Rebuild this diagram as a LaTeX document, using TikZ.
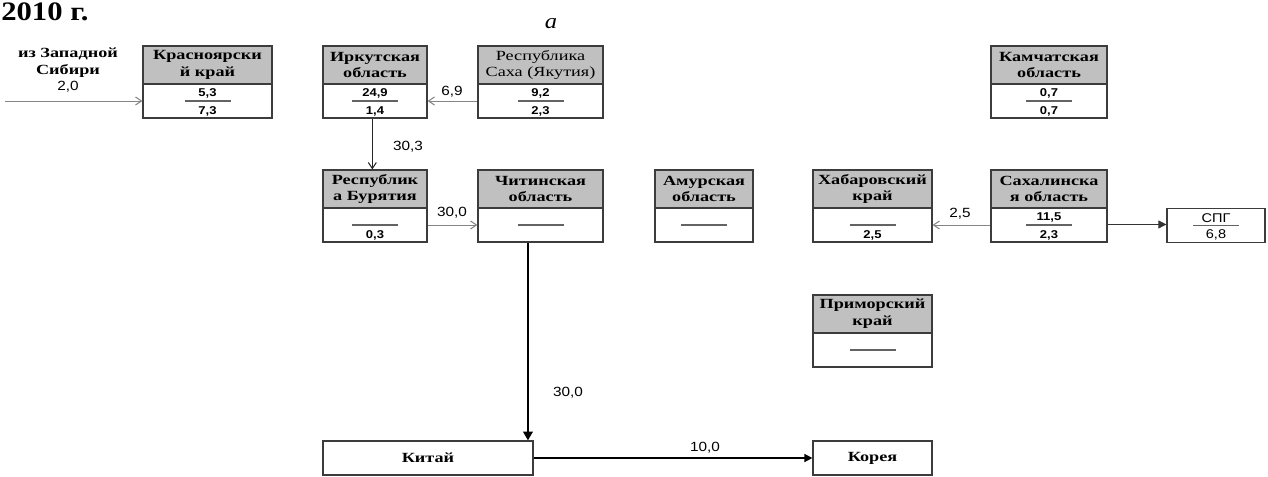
\documentclass[tikz,border=0pt]{standalone}
\usepackage{fontspec}
\setmainfont{Liberation Serif}
\newfontfamily\hdrfont[FakeStretch=1.3]{Liberation Serif}
\newfontfamily\titlefont[FakeStretch=1.15]{Liberation Serif}
\newfontfamily\numfont[FakeStretch=1.15]{Liberation Sans}
\usetikzlibrary{arrows.meta}
\definecolor{hdrgray}{HTML}{C0C0C0}
\definecolor{boxline}{HTML}{3C3C3C}
\definecolor{flowgray}{HTML}{858585}
\tikzset{
  hdrbox/.style={draw=boxline, fill=hdrgray, line width=0.9pt, minimum height=28.5pt,
    inner sep=0pt, align=center, font=\hdrfont\bfseries\fontsize{10.5}{12.6}\selectfont},
  bodybox/.style={draw=boxline, fill=white, line width=0.9pt, minimum height=25.5pt, inner sep=0pt},
  plainbox/.style={draw=boxline, fill=white, line width=0.9pt, inner sep=0pt, align=center,
    font=\hdrfont\bfseries\fontsize{10.5}{12.6}\selectfont},
  fracline/.style={draw=boxline!80, line width=0.8pt},
  numtxt/.style={inner sep=0pt, font=\numfont\bfseries\fontsize{8.5}{9}\selectfont},
  flowlbl/.style={inner sep=0pt, font=\numfont\fontsize{10}{11}\selectfont},
  grayflow/.style={draw=flowgray, line width=0.75pt, -{Straight Barb[length=4.5pt,width=6pt]}},
  darkflow/.style={draw=black!85, line width=0.75pt, -{Straight Barb[length=4.5pt,width=6pt]}},
  solidflow/.style={draw=black!80, line width=0.6pt, -{Triangle[length=6pt,width=6pt]}},
  thickflow/.style={draw=black, line width=1.6pt, -{Triangle[length=6.5pt,width=7pt]}},
  medflow/.style={draw=black, line width=1.1pt, -{Triangle[length=6pt,width=6pt]}},
}
% name, x1, x2, ytop, header, top number, bottom number
\newcommand\regbox[7]{%
  \pgfmathsetmacro\rbcx{(#2+#3)/2}%
  \pgfmathsetmacro\rbw{(#3-#2)*0.75}%
  \node[hdrbox, minimum width=\rbw pt] (#1h) at (\rbcx,#4+19) {#5};
  \node[bodybox, minimum width=\rbw pt] (#1) at (\rbcx,#4+55) {};
  \draw[fracline] ([xshift=-17.25pt]#1.center) -- ([xshift=17.25pt]#1.center);
  \node[numtxt] (#1t) at ([yshift=5.5pt]#1.center) {#6};
  \node[numtxt] (#1b) at ([yshift=-7.6pt]#1.center) {#7};
}
\begin{document}
\begin{tikzpicture}[x=0.75pt, y=-0.75pt]
\useasboundingbox (0,0) rectangle (1268,476);

% title and panel letter
\node[anchor=base west, inner sep=0pt, font=\titlefont\bfseries\fontsize{20}{22}\selectfont] (title) at (1,20) {2010 г.};
\node[anchor=base, inner sep=0pt, font=\titlefont\itshape\fontsize{16}{17}\selectfont] (panel) at (551,28) {а};

% row 1
\regbox{kras}{143}{272}{46}{Красноярски\\й край}{5,3}{7,3}
\regbox{irk}{323}{427}{46}{Иркутская\\область}{24,9}{1,4}
\regbox{saha}{478}{603}{46}{\mdseries Республика\\\mdseries Саха (Якутия)}{9,2}{2,3}
\regbox{kam}{991}{1107}{46}{Камчатская\\область}{0,7}{0,7}

% row 2
\regbox{bur}{323}{427}{170}{Республик\\а Бурятия}{}{0,3}
\regbox{chita}{478}{603}{170}{Читинская\\область}{}{}
\regbox{amur}{655}{753}{170}{Амурская\\область}{}{}
\regbox{hab}{813}{932}{170}{Хабаровский\\край}{}{2,5}
\regbox{sakh}{991}{1107}{170}{Сахалинска\\я область}{11,5}{2,3}

% row 3
\regbox{prim}{813}{932}{295}{Приморский\\край}{}{}

% LNG box
\node[plainbox, minimum width=73.5pt, minimum height=26pt] (spg) at (1216,225.5) {};
\draw[fracline] ([xshift=-17.25pt]spg.center) -- ([xshift=17.25pt]spg.center);
\node[inner sep=0pt, font=\numfont\fontsize{9.5}{10}\selectfont] (spgt) at ([yshift=5.5pt]spg.center) {СПГ};
\node[inner sep=0pt, font=\numfont\fontsize{9.5}{10}\selectfont] (spgb) at ([yshift=-6.8pt]spg.center) {6,8};

% bottom row
\node[plainbox, minimum width=157.5pt, minimum height=25.5pt] (china) at (428,458) {Китай};
\node[plainbox, minimum width=89.25pt, minimum height=25.5pt] (korea) at (872.5,458) {Корея};

% west Siberia inflow
\node[align=center, inner sep=0pt, font=\hdrfont\bfseries\fontsize{10.5}{12.6}\selectfont] (wsibl) at (68,63) {из Западной\\Сибири};
\coordinate (wsib) at (5,101);
\draw[grayflow] (wsib) -- (kras.west);
\node[flowlbl] (l20) at (68,87) {2,0};

% flows
\draw[grayflow] (saha.west) -- (irk.east);
\node[flowlbl] (l69) at (452,92) {6,9};

\draw[darkflow] ([xshift=-2pt]irk.south) -- ([xshift=-2pt]burh.north);
\node[flowlbl] (l303) at (408,147) {30,3};

\draw[grayflow] (bur.east) -- (chita.west);
\node[flowlbl] (l300a) at (452,213) {30,0};

\draw[grayflow] (sakh.west) -- (hab.east);
\node[flowlbl] (l25) at (960,214) {2,5};

\draw[solidflow] ([yshift=0.4pt]sakh.east) -- ([yshift=0.4pt]sakh.east -| spg.west);

\draw[thickflow] ([xshift=-9.4pt]chita.south) -- ([xshift=-9.4pt]chita.south |- china.north);
\node[flowlbl] (l300b) at (568,393) {30,0};

\draw[medflow] (china.east) -- (korea.west);
\node[flowlbl] (l100) at (705,448) {10,0};
\end{tikzpicture}
\end{document}
